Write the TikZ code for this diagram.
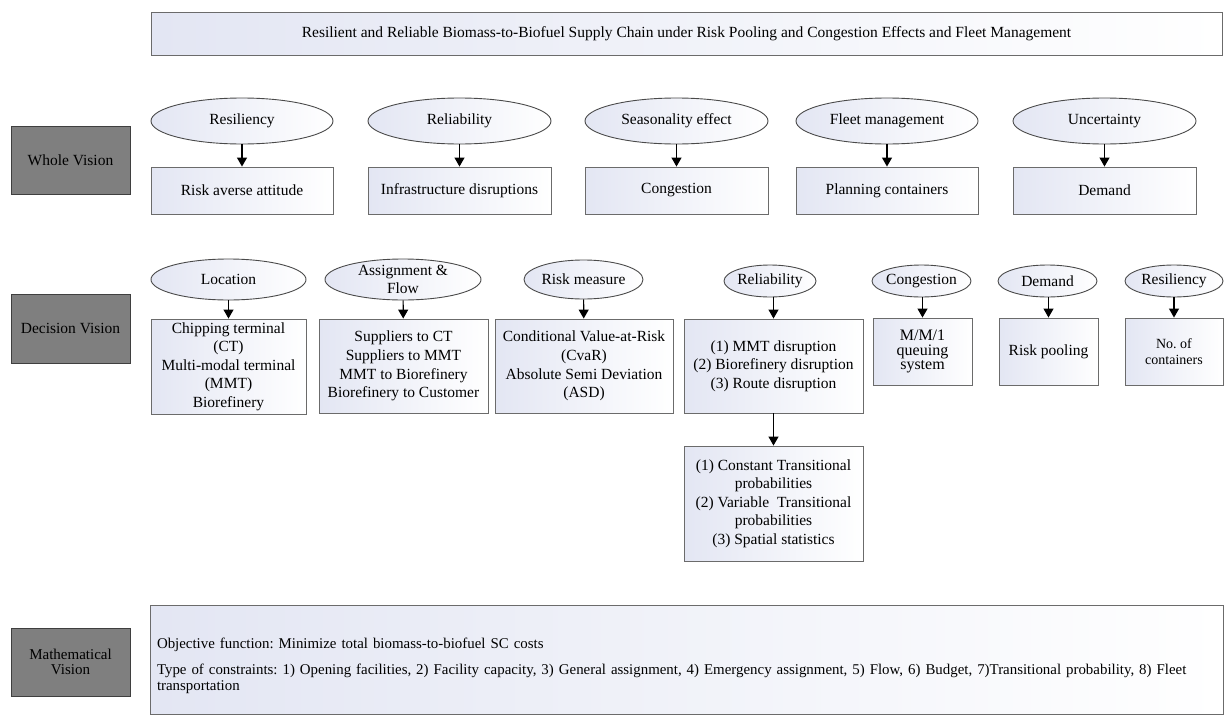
\documentclass[tikz,border=0pt]{standalone}
\usepackage{fontspec}
\setmainfont{Liberation Serif}
\usepackage{tikz}
\usepackage{xcolor}
\usetikzlibrary{shapes.geometric,arrows.meta}
\definecolor{tintcolor}{HTML}{E3E6F3}
\definecolor{edgecolor}{HTML}{6B6B6B}
\definecolor{ovaledge}{HTML}{4A4A4A}
\definecolor{visionfill}{HTML}{7F7F7F}
\definecolor{visionedge}{HTML}{3F3F3F}
\frenchspacing
\newcommand{\boxfont}{\fontsize{15.5}{18.6}\selectfont}
\newcommand{\tightfont}{\fontsize{15}{14.5}\selectfont}
\newcommand{\queuefont}{\fontsize{16}{14.5}\selectfont}
\newcommand{\smallerfont}{\fontsize{14}{16}\selectfont}
\newcommand{\notefont}{\fontsize{14.9}{16.5}\selectfont}
\tikzstyle{visionbox} = [
    draw=visionedge,
    fill=visionfill,
    rectangle,
    line width=0.9pt,
    minimum width=119pt,
    minimum height=68pt,
    inner sep=0pt,
    font=\boxfont,
    align=center
    ]
\tikzstyle{topic} = [
    draw=ovaledge,
    ellipse,
    left color=tintcolor,
    right color=white,
    line width=0.9pt,
    inner xsep=-4pt,
    inner ysep=-3pt,
    font=\boxfont,
    align=center
    ]
\tikzstyle{itembox} = [
    draw=edgecolor,
    rectangle,
    left color=tintcolor,
    right color=white,
    line width=0.9pt,
    inner sep=0pt,
    font=\boxfont,
    align=center
    ]
\tikzstyle{flow} = [
    -{Triangle[length=9pt,width=10pt]},
    line width=1.2pt
    ]

\begin{document}
\begin{tikzpicture}[x=1pt,y=-1pt]
\useasboundingbox (0,0) rectangle (1224,715);

\node[itembox, minimum width=1071pt, minimum height=43pt] (title) at (686.5,33.5)
    {Resilient and Reliable Biomass-to-Biofuel Supply Chain under Risk Pooling and Congestion Effects and Fleet Management};

% whole vision
\node[visionbox] (whole) at (70.5,160) {Whole Vision};
\node[topic, minimum width=182pt, minimum height=46pt] (resil) at (242,121) {Resiliency};
\node[itembox, minimum width=182pt, minimum height=47pt] (riskav) at (242,190.5) {Risk averse attitude};
\node[topic, minimum width=183pt, minimum height=46pt] (reli) at (459.5,121) {Reliability};
\node[itembox, minimum width=183pt, minimum height=47pt] (infra) at (459.5,190.5) {Infrastructure disruptions};
\node[topic, minimum width=183pt, minimum height=46pt] (season) at (676.5,121) {Seasonality effect};
\node[itembox, minimum width=183pt, minimum height=47pt] (congestion) at (676.5,190.5) {Congestion};
\node[topic, minimum width=182pt, minimum height=46pt] (fleet) at (887,121) {Fleet management};
\node[itembox, minimum width=182pt, minimum height=47pt] (planning) at (887,190.5) {Planning containers};
\node[topic, minimum width=183pt, minimum height=46pt] (uncert) at (1104.5,121) {Uncertainty};
\node[itembox, minimum width=183pt, minimum height=47pt] (demand) at (1104.5,190.5) {Demand};
\draw[flow] (resil) -- (riskav);
\draw[flow] (reli) -- (infra);
\draw[flow] (season) -- (congestion);
\draw[flow] (fleet) -- (planning);
\draw[flow] (uncert) -- (demand);

% decision vision
\node[visionbox, minimum height=69pt] (decision) at (70.5,328.5) {Decision Vision};
\node[topic, minimum width=155pt, minimum height=41pt] (location) at (228.5,279.5) {Location};
\node[itembox, minimum width=155pt, minimum height=95pt] (locbox) at (228.5,366.5)
    {Chipping terminal\\(CT)\\Multi-modal terminal\\(MMT)\\Biorefinery};
\node[topic, minimum width=156pt, minimum height=41pt, inner ysep=-8pt] (assign) at (403,279.5) {Assignment \&\\Flow};
\node[itembox, minimum width=169pt, minimum height=94pt] (assignbox) at (403.5,366)
    {Suppliers to CT\\Suppliers to MMT\\MMT to Biorefinery\\Biorefinery to Customer};
\node[topic, minimum width=119pt, minimum height=39pt] (riskm) at (583.5,279.5) {Risk measure};
\node[itembox, minimum width=178pt, minimum height=94pt] (riskbox) at (584,366)
    {Conditional Value-at-Risk\\(CvaR)\\Absolute Semi Deviation\\(ASD)};
\node[topic, minimum width=92pt, minimum height=32pt] (reliab) at (770,281) {Reliability};
\node[itembox, minimum width=179pt, minimum height=94pt] (reliabbox) at (773.5,366)
    {(1) MMT disruption\\(2) Biorefinery disruption\\(3) Route disruption};
\node[itembox, minimum width=179pt, minimum height=115pt] (transbox) at (773.5,503.5)
    {(1) Constant Transitional\\probabilities\\(2) Variable~ Transitional\\probabilities\\(3) Spatial statistics};
\node[topic, minimum width=99pt, minimum height=32pt] (congest) at (921.5,281) {Congestion};
\node[itembox, minimum width=99pt, minimum height=67pt, font=\queuefont] (queuebox) at (922.5,351.5)
    {M/M/1\\queuing\\system};
\node[topic, minimum width=99pt, minimum height=32pt] (demand2) at (1047.5,281) {Demand};
\node[itembox, minimum width=99pt, minimum height=67pt] (poolbox) at (1048.5,351.5) {Risk pooling};
\node[topic, minimum width=98pt, minimum height=32pt] (resil2) at (1174,281) {Resiliency};
\node[itembox, minimum width=98pt, minimum height=67pt, font=\smallerfont] (contbox) at (1174,351.5)
    {No. of\\containers};
\draw[flow] (location) -- (locbox);
\draw[flow] (assign) -- (assignbox);
\draw[flow] (riskm) -- (riskbox);
\draw[flow] (reliabbox.north |- reliab.south) -- (reliabbox.north);
\draw[flow] (reliabbox) -- (transbox);
\draw[flow] (queuebox.north |- congest.south) -- (queuebox.north);
\draw[flow] (poolbox.north |- demand2.south) -- (poolbox.north);
\draw[flow] (resil2) -- (contbox);

% mathematical vision
\node[visionbox, font=\tightfont] (math) at (70.5,662) {Mathematical\\Vision};
\node[itembox, minimum width=1073pt, minimum height=109pt, text width=1059pt, align=left, font=\notefont] (objbox) at (686.5,659.5)
    {\rule{0pt}{23pt}Objective function: Minimize total biomass-to-biofuel SC costs\\[9.5pt]
     Type of constraints: 1) Opening facilities, 2) Facility capacity, 3) General assignment, 4) Emergency assignment, 5) Flow, 6) Budget, 7)Transitional probability, 8) Fleet\\
     transportation};
\end{tikzpicture}
\end{document}
